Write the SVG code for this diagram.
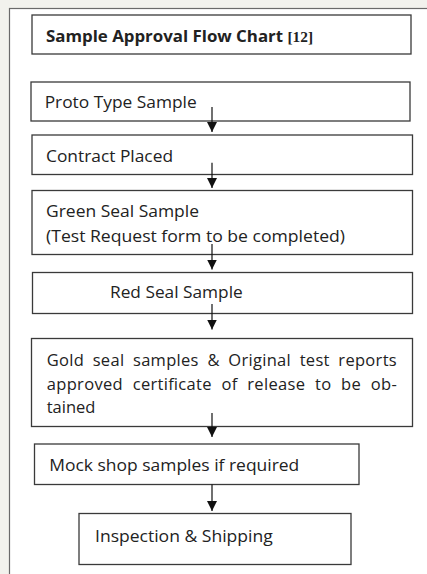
<svg xmlns="http://www.w3.org/2000/svg" width="427" height="574" viewBox="0 0 427 574">
<defs>
<style>
.box{fill:#fff;stroke:#3a3a3a;stroke-width:1.3}
.t{font-family:"Open Sans","Noto Sans",sans-serif;font-size:17px;fill:#222}
.w{font-family:"Open Sans","Noto Sans",sans-serif;font-size:16.5px;fill:#222}
.tb{font-family:"Open Sans","Noto Sans",sans-serif;font-size:16.5px;font-weight:bold;fill:#222}
.ln{stroke:#111;stroke-width:1.2;fill:none}
</style>
<marker id="ah" markerUnits="userSpaceOnUse" markerWidth="10" markerHeight="10" refX="10" refY="5" orient="auto" viewBox="0 0 10 10">
<path d="M0,0 L10,5 L0,10 z" fill="#111"/>
</marker>
</defs>
<rect x="0" y="0" width="427" height="574" fill="#f2f2ed"/>
<rect x="9.5" y="8.5" width="430" height="580" fill="#fff" stroke="#6a6a6a" stroke-width="1.2"/>

<g id="title">
<rect class="box" x="32" y="15" width="379" height="39"/>
<text class="tb" x="46" y="42" textLength="267" lengthAdjust="spacingAndGlyphs">Sample Approval Flow Chart <tspan font-family="Liberation Serif, serif" font-size="15">[12]</tspan></text>
</g>

<g id="proto">
<rect class="box" x="31" y="82" width="379" height="39"/>
<text class="t" x="44.7" y="108" textLength="152" lengthAdjust="spacingAndGlyphs">Proto Type Sample</text>
</g>

<g id="contract">
<rect class="box" x="32" y="135" width="380.5" height="39.5"/>
<text class="t" x="46" y="161.5" textLength="127" lengthAdjust="spacingAndGlyphs">Contract Placed</text>
</g>

<g id="green">
<rect class="box" x="32" y="190.5" width="380.5" height="64"/>
<text class="t" x="46" y="217.3" textLength="153" lengthAdjust="spacingAndGlyphs">Green Seal Sample</text>
<text class="t" x="46" y="241.7" textLength="299" lengthAdjust="spacingAndGlyphs">(Test Request form to be completed)</text>
</g>

<g id="red">
<rect class="box" x="32.5" y="272.5" width="380" height="41"/>
<text class="t" x="110" y="298" textLength="132.7" lengthAdjust="spacingAndGlyphs">Red Seal Sample</text>
</g>

<g id="gold">
<rect class="box" x="31.5" y="338.5" width="381" height="88"/>
<text class="w" x="46.7" y="366" word-spacing="4" textLength="350" lengthAdjust="spacing"><tspan>Gold</tspan> <tspan>seal</tspan> <tspan>samples</tspan> <tspan>&amp;</tspan> <tspan>Original</tspan> <tspan>test</tspan> <tspan>reports</tspan></text>
<text class="w" x="46.7" y="390" word-spacing="5" textLength="350" lengthAdjust="spacing"><tspan>approved</tspan> <tspan>certificate</tspan> <tspan>of</tspan> <tspan>release</tspan> <tspan>to</tspan> <tspan>be</tspan> <tspan>ob-</tspan></text>
<text class="w" x="46.7" y="413.3">tained</text>
</g>

<g id="mock">
<rect class="box" x="34.5" y="444" width="324.5" height="40.5"/>
<text class="t" x="49.3" y="471" textLength="250" lengthAdjust="spacingAndGlyphs">Mock shop samples if required</text>
</g>

<g id="inspection">
<rect class="box" x="79" y="513.5" width="272" height="51"/>
<text class="t" x="95" y="541.7" textLength="177.7" lengthAdjust="spacingAndGlyphs">Inspection &amp; Shipping</text>
</g>

<g id="connectors">
<line class="ln" x1="212" y1="107" x2="212" y2="132" marker-end="url(#ah)"/>
<line class="ln" x1="212" y1="162.7" x2="212" y2="188" marker-end="url(#ah)"/>
<line class="ln" x1="212" y1="244" x2="212" y2="269.5" marker-end="url(#ah)"/>
<line class="ln" x1="212" y1="304" x2="212" y2="329.5" marker-end="url(#ah)"/>
<line class="ln" x1="212" y1="413" x2="212" y2="437" marker-end="url(#ah)"/>
<line class="ln" x1="212" y1="484.5" x2="212" y2="511" marker-end="url(#ah)"/>
</g>
</svg>
